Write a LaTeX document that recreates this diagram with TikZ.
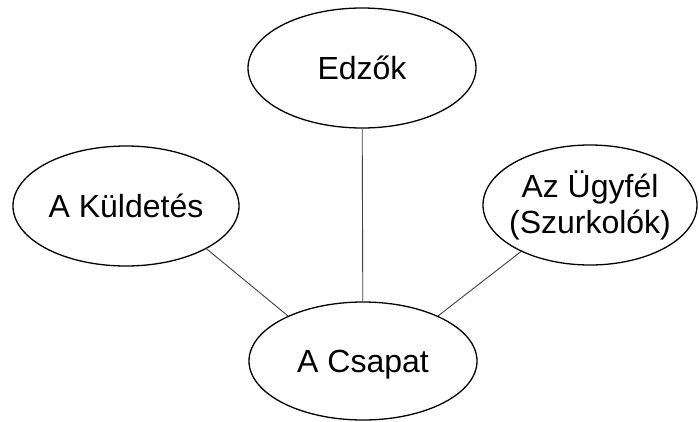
\documentclass[tikz,border=0pt]{standalone}
\usepackage{fontspec}
\setmainfont{Liberation Sans}
\usetikzlibrary{shapes.geometric}

\begin{document}
\begin{tikzpicture}[x=1pt, y=-1pt]
    \tikzset{bubble/.style={ellipse, draw, line width=1.3pt,
            inner sep=0pt, font=\fontsize{32}{36}\selectfont},
        spoke/.style={draw=black!75, line width=0.9pt}}
    \useasboundingbox (0,0) rectangle (699,421);
    \node[bubble, minimum width=228pt, minimum height=120pt]
        (Edzok) at (362,68) {Edzők};
    \node[bubble, minimum width=226pt, minimum height=120pt]
        (Kuldetes) at (126,206) {A Küldetés};
    \node[bubble, minimum width=214pt, minimum height=120pt,
        inner xsep=-6pt, align=center]
        (Ugyfel) at (590,205) {Az Ügyfél\\(Szurkolók)};
    \node[bubble, minimum width=228pt, minimum height=118pt, text depth=0pt]
        (Csapat) at (363,361) {A Csapat};
    \draw[spoke] (Edzok) -- (Csapat);
    \draw[spoke] (Kuldetes.-28) -- (Csapat.149);
    \draw[spoke] (Ugyfel.214) -- (Csapat.31); % right branch
\end{tikzpicture}
\end{document}
